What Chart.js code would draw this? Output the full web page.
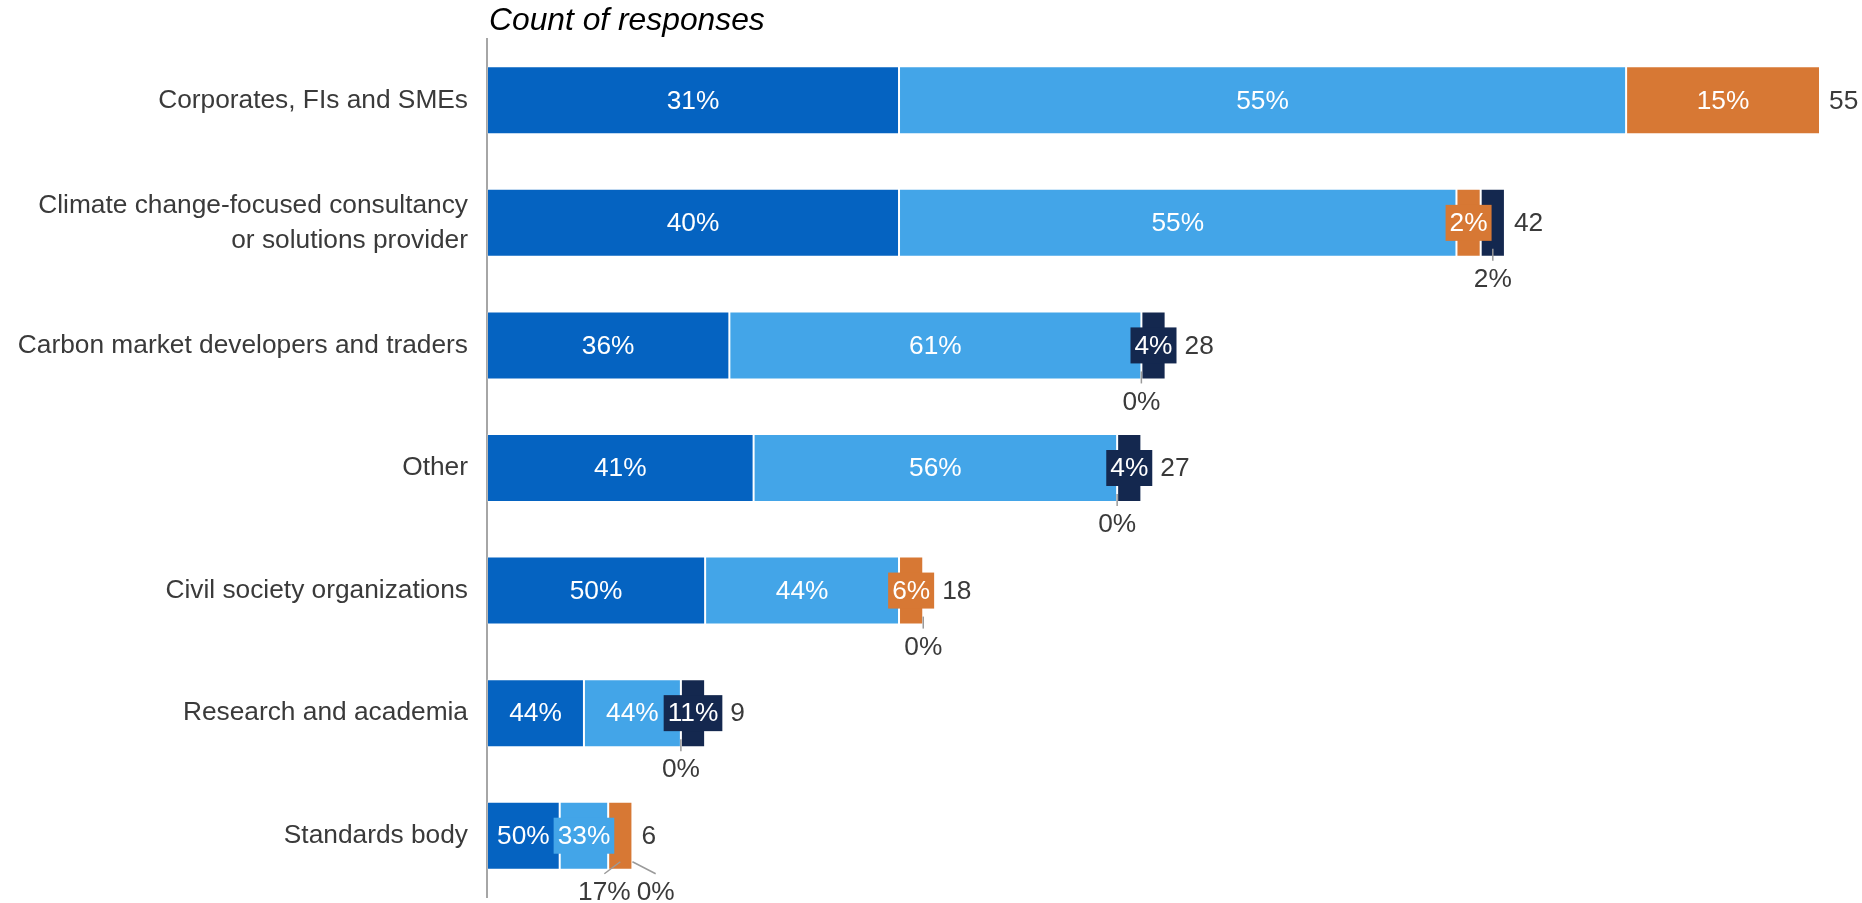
<!DOCTYPE html>
<html>
<head>
<meta charset="utf-8">
<title>Count of responses</title>
<script src="https://cdn.jsdelivr.net/npm/chart.js@4"></script>
<style>
  html, body { margin: 0; padding: 0; background: #fff; overflow: hidden; }
  canvas { display: block; }
</style>
</head>
<body>
<canvas id="chart" width="1862" height="903"></canvas>
<script>
// Categories (top to bottom)
const categories = [
    'Corporates, FIs and SMEs',
    ['Climate change-focused consultancy', 'or solutions provider'],
    'Carbon market developers and traders',
    'Other',
    'Civil society organizations',
    'Research and academia',
    'Standards body'
];

// Response counts per segment (null = no segment at all)
const seriesA = [17, 17, 10, 11, 9, 4, 3];
const seriesB = [30, 23, 17, 15, 8, 4, 2];
const seriesC = [8, 1, 0, 0, 1, 0, 1];
const seriesD = [null, 1, 1, 1, 0, 1, 0];

const seriesColors = ['#0563c1', '#43a5e8', '#d77834', '#14284f'];
const FONT = '"Liberation Sans", Arial, sans-serif';
const FONT_SIZE = 26.3;

const totals = categories.map((c, i) =>
    [seriesA, seriesB, seriesC, seriesD].reduce((s, arr) => s + (arr[i] || 0), 0));

/**
 * Draws the title, percentage labels, leader lines and totals.
 */
const labelPlugin = {
    id: 'labels',
    afterDatasetsDraw(chart) {
        const ctx = chart.ctx;
        const area = chart.chartArea;
        ctx.save();

        // Title
        ctx.font = 'italic 31.8px ' + FONT;
        ctx.fillStyle = '#000';
        ctx.textAlign = 'left';
        ctx.textBaseline = 'alphabetic';
        ctx.fillText('Count of responses', area.left + 2, 30);

        ctx.font = FONT_SIZE + 'px ' + FONT;
        ctx.textBaseline = 'middle';

        categories.forEach((cat, i) => {
            let prevRight = -Infinity;
            let barEnd = area.left;
            let barY = 0, barBottom = 0;
            const below = [];

            chart.data.datasets.forEach((ds, d) => {
                const v = ds.data[i];
                if (v === null || v === undefined) return;
                const bar = chart.getDatasetMeta(d).data[i];
                const x0 = Math.min(bar.base, bar.x);
                const x1 = Math.max(bar.base, bar.x);
                barY = bar.y;
                barBottom = bar.y + bar.height / 2;
                barEnd = Math.max(barEnd, x1);
                const text = Math.round(v / totals[i] * 100) + '%';
                const tw = ctx.measureText(text).width;

                if (v === 0) {
                    below.push({ anchor: x0, text, tw });
                    return;
                }
                const cx = (x0 + x1) / 2;
                const fits = tw + 8 <= x1 - x0;
                const half = fits ? tw / 2 : tw / 2 + 4;
                if (cx - half < prevRight + 2) {
                    below.push({ anchor: cx, text, tw });
                    return;
                }
                if (!fits) {
                    ctx.fillStyle = seriesColors[d];
                    ctx.fillRect(cx - half, bar.y - 18, half * 2, 36);
                }
                ctx.fillStyle = '#fff';
                ctx.textAlign = 'center';
                ctx.fillText(text, cx, bar.y + 1);
                prevRight = cx + half;
            });

            // Labels placed under the bar, pushed apart when they collide
            below.sort((a, b) => a.anchor - b.anchor);
            below.forEach(b => { b.cx = b.anchor; });
            for (let k = 1; k < below.length; k++) {
                const a = below[k - 1], b = below[k];
                const need = a.tw / 2 + b.tw / 2 + 6;
                if (b.cx - a.cx < need) {
                    const mid = (a.anchor + b.anchor) / 2;
                    const total = a.tw + b.tw + 6;
                    a.cx = mid - total / 2 + a.tw / 2;
                    b.cx = mid + total / 2 - b.tw / 2;
                }
            }
            below.forEach(b => {
                ctx.strokeStyle = '#9a9a9a';
                ctx.lineWidth = 1.5;
                ctx.beginPath();
                ctx.moveTo(b.anchor, barBottom - 8);
                ctx.lineTo(b.cx, barBottom + 4);
                ctx.stroke();
                ctx.fillStyle = '#3a3a3a';
                ctx.textAlign = 'center';
                ctx.fillText(b.text, b.cx, barBottom + 23);
            });

            // Total count
            ctx.fillStyle = '#3a3a3a';
            ctx.textAlign = 'left';
            ctx.fillText(String(totals[i]), Math.max(barEnd + 1, prevRight) + 8, barY + 1);
        });

        ctx.restore();
    }
};

function makeDataset(label, data, color) {
    return {
        label: label,
        data: data,
        backgroundColor: color,
        borderColor: 'rgba(255,255,255,0.2)',
        borderWidth: 1,
        borderSkipped: false,
        barPercentage: 0.555,
        categoryPercentage: 1
    };
}

new Chart(document.getElementById('chart'), {
    type: 'bar',
    data: {
        labels: categories,
        datasets: [
            makeDataset('A', seriesA, seriesColors[0]),
            makeDataset('B', seriesB, seriesColors[1]),
            makeDataset('C', seriesC, seriesColors[2]),
            makeDataset('D', seriesD, seriesColors[3])
        ]
    },
    options: {
        indexAxis: 'y',
        responsive: false,
        maintainAspectRatio: false,
        devicePixelRatio: 1,
        animation: false,
        layout: {
            padding: { top: 39, bottom: 6, left: 0, right: 42 }
        },
        scales: {
            x: {
                stacked: true,
                display: false,
                min: 0,
                max: 55
            },
            y: {
                stacked: true,
                grid: { display: false, drawTicks: false },
                border: { display: true, color: '#a6a6a6', width: 2 },
                ticks: {
                    color: '#3a3a3a',
                    padding: 19,
                    font: { family: FONT, size: FONT_SIZE, lineHeight: 1.33 }
                },
                afterFit(scale) {
                    scale.width = 487;
                    scale.paddingTop = 0;
                    scale.paddingBottom = 0;
                }
            }
        },
        plugins: {
            legend: { display: false },
            tooltip: { enabled: false }
        }
    },
    plugins: [labelPlugin]
});
</script>
</body>
</html>
